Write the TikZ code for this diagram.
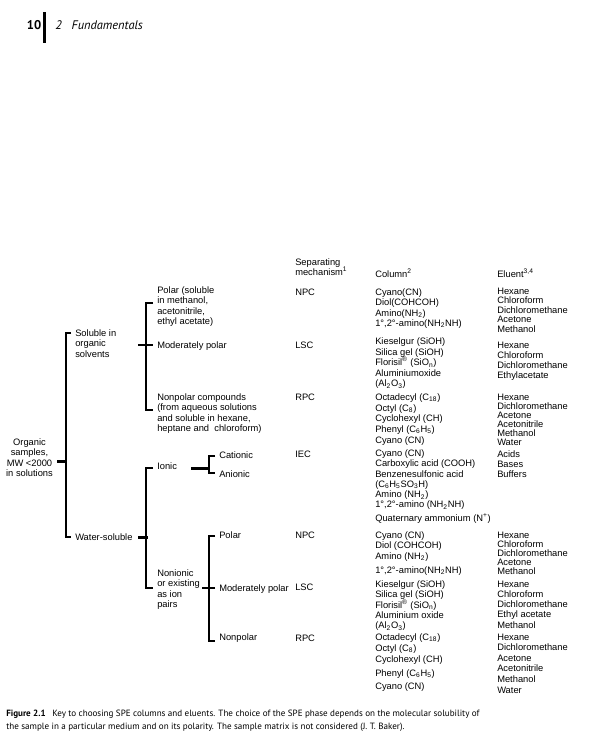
\documentclass[tikz,border=0pt]{standalone}
\usepackage{fontspec}
\setmainfont{Liberation Sans}
\newfontfamily\capfont{PT Sans}
\usetikzlibrary{positioning}
\setlength{\lineskiplimit}{-5pt}

\begin{document}
\begin{tikzpicture}[x=0.75pt, y=-0.75pt,
    lbl/.style={anchor=north west, inner sep=0pt, align=left, font=\fontsize{7}{7.7}\selectfont},
    elu/.style={lbl, font=\fontsize{7}{#1}\selectfont},
    brk/.style={line width=2.2pt, line join=miter},
    hdr/.style={inner sep=0pt, font=\capfont\fontsize{9.5}{11}\selectfont}]
    \useasboundingbox (0,0) rectangle (606,747);

    % running head
    \node [hdr, anchor=east, font=\capfont\fontsize{9.5}{11}\selectfont\bfseries] (pg) at (41.5,25) {10};
    \coordinate (barT) at (44.5,12);
    \coordinate (barB) at (44.5,43);
    \draw [line width=1.6pt] (barT) -- (barB);
    \node [hdr, anchor=west, font=\capfont\fontsize{9.3}{11}\selectfont\itshape] (chap) at (55,25) {2\hspace{7.5pt}Fundamentals};

    % sample classes
    \node [lbl, align=center, anchor=north] (org) at (29.5,438.5) {Organic\\samples,\\MW <2000\\in solutions};
    \node [lbl] (sol) at (75,329.5) {Soluble in\\organic\\solvents};
    \node [lbl] (wat) at (75,533.5) {Water-soluble};
    \node [lbl] (polA) at (157,286.5) {Polar (soluble\\in methanol,\\acetonitrile,\\ethyl acetate)};
    \node [lbl] (mpA) at (157,341.5) {Moderately polar};
    \node [lbl] (npA) at (157,393.5) {Nonpolar compounds\\(from aqueous solutions\\and soluble in hexane,\\heptane and \ chloroform)};
    \node [lbl] (ion) at (157,462.5) {Ionic};
    \node [lbl] (non) at (157,569.5) {Nonionic\\or existing\\as ion\\pairs};
    \node [lbl] (cat) at (219,451) {Cationic};
    \node [lbl] (ani) at (219,470.5) {Anionic};
    \node [lbl] (polB) at (219,531.5) {Polar};
    \node [lbl] (mpB) at (219,584.5) {Moderately polar};
    \node [lbl] (nonp) at (219,633.5) {Nonpolar};

    % brackets
    \draw [brk] ([shift={(4,4)}]org.east) -- ++(9.5,0);
    \draw [brk] ([shift={(-4,3.5)}]sol.north west) -- ++(-5,0) |- ([shift={(-4,3.5)}]wat.north west);
    \draw [brk] ([shift={(-4,16.5)}]polA.north west) -- ++(-7,0) |- ([shift={(-4,16.5)}]npA.north west);
    \draw [brk] ([shift={(-19,3.5)}]mpA.north west) -- ([shift={(-4,3.5)}]mpA.north west);
    \draw [brk] ([xshift=4]wat.east) -- ++(9.5,0);
    \draw [brk] ([shift={(-4,5.5)}]ion.north west) -- ++(-7,0) |- ([shift={(-4,18.5)}]non.north west);
    \draw [brk] ([shift={(14,2)}]ion.east) -- ++(18,0);
    \draw [brk] ([shift={(-4,5)}]cat.north west) -- ++(-6,0) |- ([shift={(-4,2.5)}]ani.north west);
    \draw [brk] ([shift={(-4,4.5)}]polB.north west) -- ++(-6,0) |- ([shift={(-4,7.5)}]nonp.north west);
    \draw [brk] ([shift={(-4,3.5)}]mpB.north west) -- ++(-13,0);

    % table heads
    \node [lbl] (hsep) at (295,258.5) {Separating\\mechanism\textsuperscript{1}};
    \node [lbl] (hcol) at (375,268.5) {Column\textsuperscript{2}};
    \node [lbl] (helu) at (497,268.5) {Eluent\textsuperscript{3,4}};

    % separating mechanism
    \node [lbl] (m1) at (295,288.5) {NPC};
    \node [lbl] (m2) at (295,341.5) {LSC};
    \node [lbl] (m3) at (295,393.5) {RPC};
    \node [lbl] (m4) at (295,450.5) {IEC};
    \node [lbl] (m5) at (295,531.5) {NPC};
    \node [lbl] (m6) at (295,583.5) {LSC};
    \node [lbl] (m7) at (295,634.5) {RPC};

    % columns
    \node [lbl] (c1) at (375,288.5) {Cyano(CN)\\Diol(COHCOH)\\Amino(NH\textsubscript{2})\\1°,2°-amino(NH\textsubscript{2}NH)};
    \node [lbl] (c2) at (375,337.5) {Kieselgur (SiOH)\\[0.3pt]Silica gel (SiOH)\\[0.3pt]Florisil\textsuperscript{®} (SiO\textsubscript{n})\\[0.3pt]Aluminiumoxide\\(Al\textsubscript{2}O\textsubscript{3})};
    \node [lbl] (c3) at (375,393.5) {Octadecyl (C\textsubscript{18})\\[0.3pt]Octyl (C\textsubscript{8})\\[0.3pt]Cyclohexyl (CH)\\[0.3pt]Phenyl (C\textsubscript{6}H\textsubscript{5})\\[0.3pt]Cyano (CN)};
    \node [lbl] (c4) at (375,449.5) {Cyano (CN)\\Carboxylic acid (COOH)\\Benzenesulfonic acid\\(C\textsubscript{6}H\textsubscript{5}SO\textsubscript{3}H)\\Amino (NH\textsubscript{2})\\1°,2°-amino (NH\textsubscript{2}NH)\\[2.8pt]Quaternary ammonium (N\textsuperscript{+})};
    \node [lbl] (c5) at (375,531.5) {Cyano (CN)\\Diol (COHCOH)\\Amino (NH\textsubscript{2})\\[2.8pt]1°,2°-amino(NH\textsubscript{2}NH)};
    \node [lbl] (c6) at (375,580.5) {Kieselgur (SiOH)\\Silica gel (SiOH)\\Florisil\textsuperscript{®} (SiO\textsubscript{n})\\Aluminium oxide\\(Al\textsubscript{2}O\textsubscript{3})};
    \node [lbl] (c7) at (375,633.5) {Octadecyl (C\textsubscript{18})\\[0.5pt]Octyl (C\textsubscript{8})\\[0.5pt]Cyclohexyl (CH)\\[2.8pt]Phenyl (C\textsubscript{6}H\textsubscript{5})\\[2pt]Cyano (CN)};

    % eluents
    \node [elu=7.1] (e1) at (497,287.5) {Hexane\\Chloroform\\Dichloromethane\\Acetone\\Methanol};
    \node [elu=7.5] (e2) at (497,341.5) {Hexane\\Chloroform\\Dichloromethane\\Ethylacetate};
    \node [elu=6.75] (e3) at (497,393.5) {Hexane\\Dichloromethane\\Acetone\\Acetonitrile\\Methanol\\Water};
    \node [elu=7.5] (e4) at (497,450.5) {Acids\\Bases\\Buffers};
    \node [elu=6.75] (e5) at (497,531.5) {Hexane\\Chloroform\\Dichloromethane\\Acetone\\Methanol};
    \node [elu=7.7] (e6) at (497,580.5) {Hexane\\Chloroform\\Dichloromethane\\Ethyl acetate\\Methanol};
    \node [elu=7.95] (e7) at (497,633.5) {Hexane\\Dichloromethane\\Acetone\\Acetonitrile\\Methanol\\Water};

    % caption
    \node [anchor=north west, inner sep=0pt, align=left, font=\capfont\fontsize{6.8}{9.75}\selectfont] (cap) at (6,709.5)
        {\textbf{Figure 2.1}\hspace{5pt}Key to choosing SPE columns and eluents. The choice of the SPE phase depends on the molecular solubility of\\the sample in a particular medium and on its polarity. The sample matrix is not considered (J. T. Baker).};
\end{tikzpicture}
\end{document}
